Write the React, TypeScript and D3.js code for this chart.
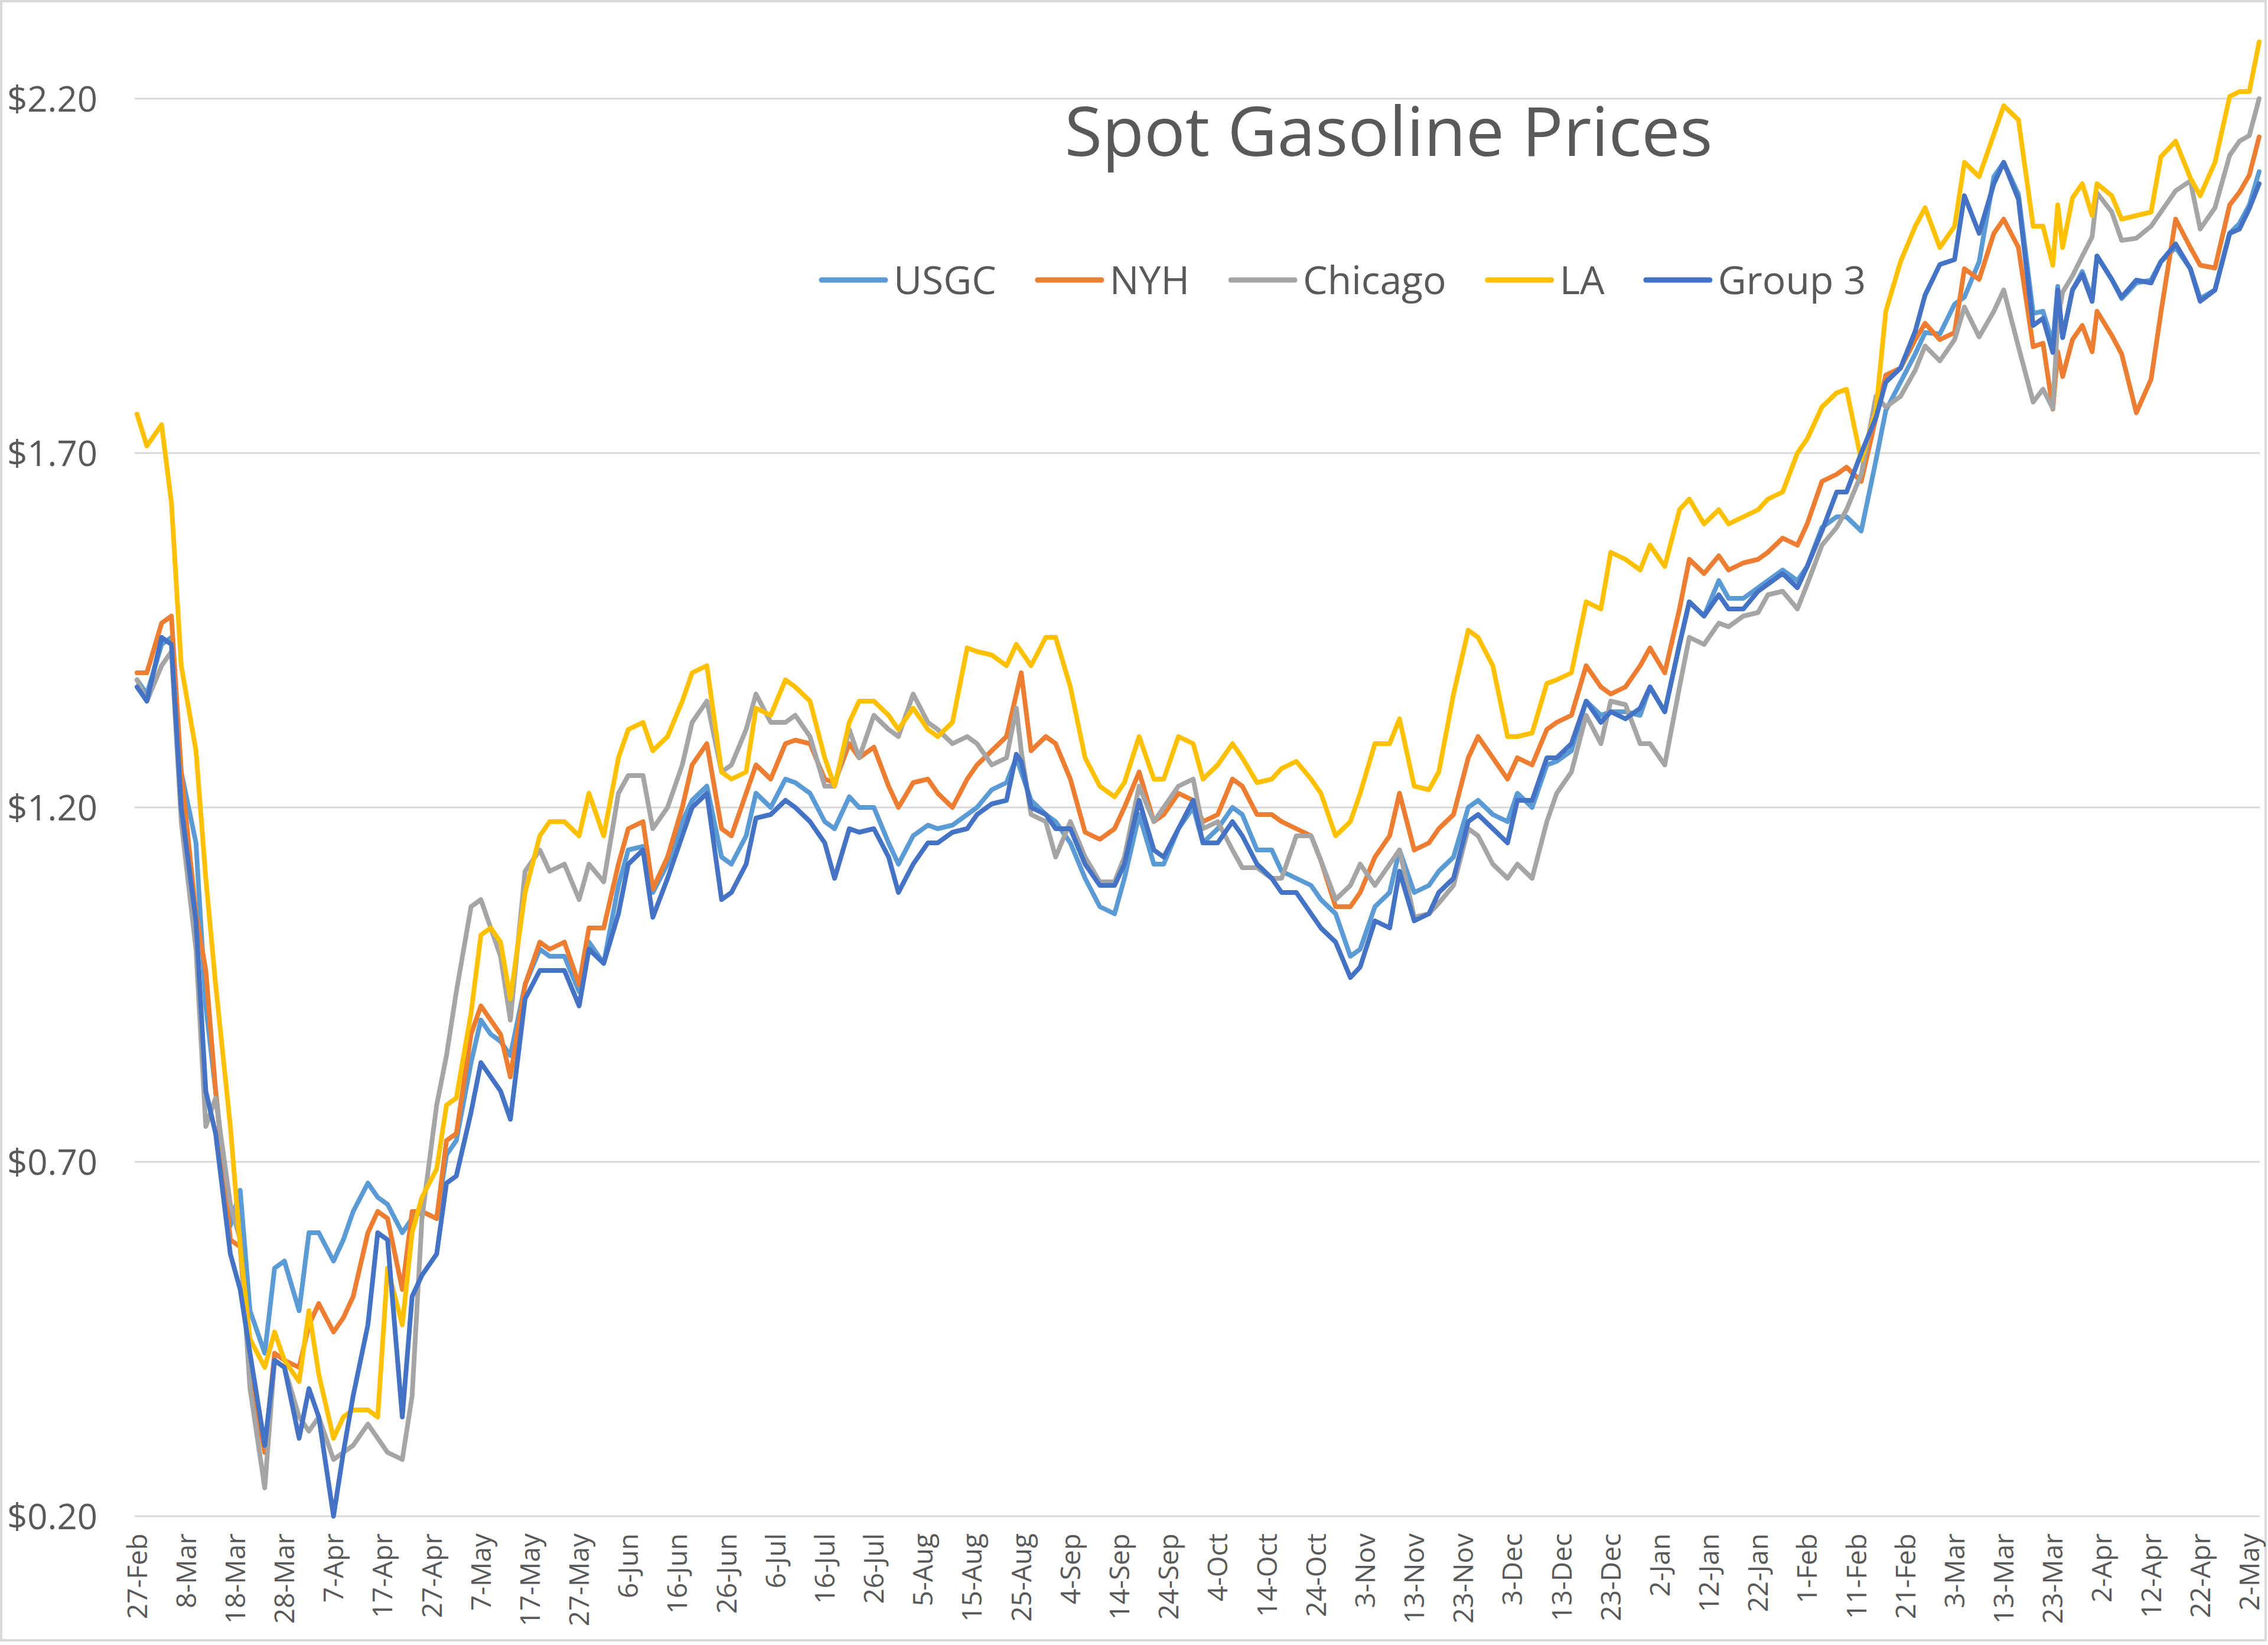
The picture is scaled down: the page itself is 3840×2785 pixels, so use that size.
import React from "react";
import * as d3 from "d3";

// Day offsets from 27-Feb-2020
const dayOffsets = [
  0, 2, 5, 7, 9, 12, 14, 16, 19, 21, 23, 26, 28, 30, 33, 35, 37, 40, 42, 44, 47, 49, 51, 54, 56, 58, 61, 63, 65, 68, 70, 72, 74, 76, 79, 82, 84, 87, 90, 92,
  95, 98, 100, 103, 105, 108, 111, 113, 116, 119, 121, 124, 126, 129, 132, 134, 137, 140, 142, 145, 147, 150, 153, 155, 158, 161, 163, 166, 169, 171, 174, 177, 179, 180, 182, 185, 187,
  190, 193, 196, 199, 201, 204, 207, 209, 212, 215, 217, 220, 223, 225, 228, 231, 233, 236, 239, 241, 244, 247, 249, 252, 255, 257, 260, 263, 265, 268, 271, 273, 276, 279, 281, 284, 287, 289, 292, 295,
  298, 300, 303, 306, 308, 311, 314, 316, 319, 322, 324, 327, 330, 332, 335, 338, 340, 343, 346, 348, 351, 354, 356,
  359, 362, 364, 367, 370, 372, 375, 378, 380, 383, 386, 388, 390, 391, 392, 394, 396, 398, 399, 402, 404, 407, 410, 412, 415, 418, 420, 423, 426, 428, 430, 432,
];

const usgc = [
  1.38, 1.36, 1.43, 1.44, 1.25, 1.15, 0.92, 0.8, 0.61, 0.66, 0.49, 0.43, 0.55, 0.56, 0.49, 0.6, 0.6, 0.56, 0.59, 0.63, 0.67, 0.65, 0.64, 0.6, 0.62, 0.63, 0.62, 0.71, 0.73, 0.84, 0.9, 0.88, 0.87, 0.85, 0.95, 1.0, 0.99, 0.99, 0.94, 1.01,
  0.98, 1.09, 1.14, 1.145, 1.08, 1.12, 1.18, 1.21, 1.23, 1.13, 1.12, 1.16, 1.22, 1.2, 1.24, 1.235, 1.22, 1.18, 1.17, 1.215, 1.2, 1.2, 1.15, 1.12, 1.16, 1.175, 1.17, 1.175, 1.19, 1.2, 1.225, 1.235, 1.27, 1.25, 1.21, 1.19, 1.18,
  1.15, 1.1, 1.06, 1.05, 1.1, 1.19, 1.12, 1.12, 1.17, 1.2, 1.15, 1.17, 1.2, 1.19, 1.14, 1.14, 1.11, 1.1, 1.09, 1.07, 1.05, 0.99, 1.0, 1.06, 1.08, 1.14, 1.08, 1.09, 1.11, 1.13, 1.2, 1.21, 1.19, 1.18, 1.22, 1.2, 1.26, 1.265, 1.28, 1.35,
  1.33, 1.335, 1.335, 1.33, 1.37, 1.335, 1.43, 1.49, 1.47, 1.52, 1.495, 1.495, 1.51, 1.52, 1.535, 1.52, 1.54, 1.595, 1.61, 1.61, 1.59, 1.69, 1.76,
  1.8, 1.84, 1.87, 1.868, 1.91, 1.92, 1.97, 2.09, 2.11, 2.065, 1.897, 1.9, 1.854, 1.935, 1.863, 1.93, 1.956, 1.918, 1.978, 1.945, 1.918, 1.94, 1.944, 1.97, 1.99, 1.96, 1.918, 1.93, 2.01, 2.024, 2.05, 2.097,
];

const nyh = [
  1.39, 1.39, 1.46, 1.47, 1.25, 1.05, 0.97, 0.8, 0.59, 0.58, 0.4, 0.29, 0.43, 0.42, 0.41, 0.47, 0.5, 0.46, 0.48, 0.51, 0.6, 0.63, 0.62, 0.52, 0.63, 0.63, 0.62, 0.73, 0.74, 0.88, 0.92, 0.9, 0.88, 0.82, 0.95, 1.01, 1.0, 1.01, 0.95, 1.03,
  1.03, 1.12, 1.17, 1.18, 1.085, 1.13, 1.2, 1.26, 1.29, 1.17, 1.16, 1.22, 1.26, 1.24, 1.29, 1.295, 1.29, 1.24, 1.235, 1.29, 1.27, 1.285, 1.23, 1.2, 1.235, 1.24, 1.22, 1.2, 1.24, 1.26, 1.28, 1.3, 1.36, 1.39, 1.28, 1.3, 1.29,
  1.24, 1.165, 1.155, 1.17, 1.2, 1.25, 1.18, 1.19, 1.22, 1.21, 1.18, 1.19, 1.24, 1.23, 1.19, 1.19, 1.18, 1.17, 1.16, 1.125, 1.06, 1.06, 1.08, 1.13, 1.16, 1.22, 1.14, 1.15, 1.17, 1.19, 1.27, 1.3, 1.27, 1.24, 1.27, 1.26, 1.31, 1.32, 1.33, 1.4,
  1.37, 1.36, 1.37, 1.4, 1.425, 1.39, 1.48, 1.55, 1.53, 1.555, 1.535, 1.545, 1.55, 1.56, 1.58, 1.57, 1.6, 1.66, 1.67, 1.68, 1.66, 1.75, 1.81,
  1.82, 1.86, 1.883, 1.86, 1.87, 1.96, 1.945, 2.01, 2.03, 1.99, 1.85, 1.855, 1.762, 1.843, 1.808, 1.86, 1.88, 1.843, 1.9, 1.866, 1.84, 1.757, 1.804, 1.898, 2.03, 1.99, 1.965, 1.961, 2.05, 2.068, 2.092, 2.146,
];

const chicago = [
  1.38, 1.35, 1.4, 1.42, 1.18, 1.0, 0.75, 0.79, 0.64, 0.59, 0.38, 0.24, 0.42, 0.41, 0.34, 0.32, 0.34, 0.28, 0.29, 0.3, 0.33, 0.31, 0.29, 0.28, 0.37, 0.62, 0.78, 0.85, 0.94, 1.06, 1.07, 1.03, 0.99, 0.9, 1.11, 1.14, 1.11, 1.12, 1.07, 1.12,
  1.095, 1.22, 1.245, 1.245, 1.17, 1.2, 1.26, 1.32, 1.35, 1.25, 1.26, 1.31, 1.36, 1.32, 1.32, 1.33, 1.3, 1.23, 1.23, 1.31, 1.27, 1.33, 1.31, 1.3, 1.36, 1.32, 1.31, 1.29, 1.3, 1.29, 1.26, 1.27, 1.34, 1.28, 1.19, 1.18, 1.13,
  1.18, 1.13, 1.095, 1.095, 1.13, 1.23, 1.18, 1.2, 1.23, 1.24, 1.17, 1.18, 1.14, 1.115, 1.115, 1.1, 1.1, 1.16, 1.16, 1.125, 1.07, 1.09, 1.12, 1.09, 1.12, 1.14, 1.045, 1.05, 1.065, 1.09, 1.17, 1.16, 1.12, 1.1, 1.12, 1.1, 1.18, 1.22, 1.25, 1.33,
  1.29, 1.35, 1.345, 1.29, 1.29, 1.26, 1.37, 1.44, 1.43, 1.46, 1.455, 1.47, 1.475, 1.5, 1.505, 1.48, 1.515, 1.57, 1.595, 1.62, 1.67, 1.78, 1.765,
  1.78, 1.817, 1.851, 1.83, 1.86, 1.906, 1.864, 1.9, 1.93, 1.85, 1.772, 1.79, 1.763, 1.888, 1.927, 1.95, 1.978, 2.005, 2.067, 2.04, 2.0, 2.003, 2.02, 2.04, 2.07, 2.084, 2.016, 2.046, 2.12, 2.14, 2.148, 2.2,
];

const la = [
  1.755, 1.71, 1.74, 1.63, 1.4, 1.28, 1.1, 0.95, 0.75, 0.58, 0.45, 0.41, 0.46, 0.42, 0.39, 0.49, 0.4, 0.31, 0.34, 0.35, 0.35, 0.34, 0.55, 0.47, 0.6, 0.65, 0.69, 0.78, 0.79, 0.91, 1.02, 1.03, 1.01, 0.93, 1.08, 1.16, 1.18, 1.18, 1.16, 1.22,
  1.16, 1.27, 1.31, 1.32, 1.28, 1.3, 1.35, 1.39, 1.4, 1.25, 1.24, 1.25, 1.34, 1.33, 1.38, 1.37, 1.35, 1.27, 1.23, 1.32, 1.35, 1.35, 1.33, 1.31, 1.34, 1.31, 1.3, 1.32, 1.425, 1.42, 1.415, 1.4, 1.43, 1.42, 1.4, 1.44, 1.44,
  1.37, 1.27, 1.23, 1.215, 1.235, 1.3, 1.24, 1.24, 1.3, 1.29, 1.24, 1.26, 1.29, 1.27, 1.235, 1.24, 1.255, 1.265, 1.24, 1.22, 1.16, 1.18, 1.22, 1.29, 1.29, 1.325, 1.23, 1.225, 1.25, 1.36, 1.45, 1.44, 1.4, 1.3, 1.3, 1.305, 1.375, 1.38, 1.39, 1.49,
  1.48, 1.56, 1.55, 1.535, 1.57, 1.54, 1.62, 1.635, 1.6, 1.62, 1.6, 1.61, 1.62, 1.635, 1.645, 1.7, 1.72, 1.765, 1.785, 1.79, 1.69, 1.76, 1.9,
  1.97, 2.02, 2.046, 1.99, 2.02, 2.11, 2.09, 2.15, 2.19, 2.17, 2.02, 2.02, 1.965, 2.05, 1.99, 2.06, 2.08, 2.035, 2.08, 2.063, 2.03, 2.035, 2.04, 2.118, 2.14, 2.088, 2.063, 2.11, 2.203, 2.21, 2.21, 2.28,
];

const group3 = [
  1.37, 1.35, 1.44, 1.43, 1.2, 1.04, 0.8, 0.74, 0.57, 0.52, 0.43, 0.3, 0.42, 0.41, 0.31, 0.38, 0.34, 0.2, 0.29, 0.37, 0.47, 0.6, 0.59, 0.34, 0.51, 0.54, 0.57, 0.67, 0.68, 0.77, 0.84, 0.82, 0.8, 0.76, 0.93, 0.97, 0.97, 0.97, 0.92, 1.0,
  0.98, 1.05, 1.12, 1.14, 1.045, 1.1, 1.16, 1.2, 1.22, 1.07, 1.08, 1.12, 1.185, 1.19, 1.21, 1.2, 1.18, 1.15, 1.1, 1.17, 1.165, 1.17, 1.13, 1.08, 1.12, 1.15, 1.15, 1.165, 1.17, 1.19, 1.205, 1.21, 1.275, 1.265, 1.2, 1.19, 1.17,
  1.17, 1.12, 1.09, 1.09, 1.12, 1.21, 1.14, 1.13, 1.17, 1.21, 1.15, 1.15, 1.18, 1.16, 1.12, 1.1, 1.08, 1.08, 1.05, 1.03, 1.01, 0.96, 0.975, 1.04, 1.03, 1.11, 1.04, 1.05, 1.08, 1.1, 1.18, 1.19, 1.17, 1.15, 1.21, 1.21, 1.27, 1.27, 1.29, 1.35,
  1.32, 1.335, 1.325, 1.34, 1.37, 1.335, 1.43, 1.49, 1.47, 1.5, 1.48, 1.48, 1.505, 1.515, 1.53, 1.51, 1.54, 1.59, 1.645, 1.645, 1.7, 1.75, 1.8,
  1.82, 1.872, 1.923, 1.966, 1.973, 2.063, 2.01, 2.08, 2.11, 2.058, 1.88, 1.89, 1.842, 1.93, 1.863, 1.93, 1.952, 1.914, 1.978, 1.945, 1.92, 1.944, 1.94, 1.97, 1.995, 1.96, 1.914, 1.93, 2.01, 2.016, 2.045, 2.08,
];

const seriesNames = ["USGC", "NYH", "Chicago", "LA", "Group 3"];
const seriesValues = [usgc, nyh, chicago, la, group3];
const seriesColors = ["#5B9BD5", "#ED7D31", "#A5A5A5", "#FFC000", "#4472C4"];

const tickLabels = [
  "27-Feb", "8-Mar", "18-Mar", "28-Mar", "7-Apr", "17-Apr", "27-Apr", "7-May", "17-May", "27-May",
  "6-Jun", "16-Jun", "26-Jun", "6-Jul", "16-Jul", "26-Jul", "5-Aug", "15-Aug", "25-Aug", "4-Sep",
  "14-Sep", "24-Sep", "4-Oct", "14-Oct", "24-Oct", "3-Nov", "13-Nov", "23-Nov", "3-Dec", "13-Dec",
  "23-Dec", "2-Jan", "12-Jan", "22-Jan", "1-Feb", "11-Feb", "21-Feb", "3-Mar", "13-Mar", "23-Mar",
  "2-Apr", "12-Apr", "22-Apr", "2-May",
];
const tickStepDays = 10;
const yTicks = [0.2, 0.7, 1.2, 1.7, 2.2];
const title = "Spot Gasoline Prices";

const FONT = "'Open Sans', 'Noto Sans', sans-serif";
const TEXT = "#595959";

function measure(text: string, size: number): number {
  if (typeof document === "undefined") return text.length * size * 0.55;
  const c = document.createElement("canvas");
  const ctx = c.getContext("2d");
  if (!ctx) return text.length * size * 0.55;
  ctx.font = `${size}px "Open Sans"`;
  return ctx.measureText(text).width;
}

export default function App() {
  const W = 3840;
  const H = 2785;
  const plotLeft = 228;
  const plotRight = 3826;

  const x = d3.scaleLinear().domain([0, 432]).range([232, 3825]);
  const y = d3.scaleLinear().domain([0.2, 2.2]).range([2567, 167]);
  const fmt = d3.format("$.2f");

  const lineGen = d3
    .line<number>()
    .x((_, i) => x(dayOffsets[i]))
    .y((d) => y(d));

  // legend layout
  const legendFont = 66;
  const legendLine = 108;
  const legendGapText = 14;
  const legendGapItem = 70;
  let cursor = 1391;
  const legendItems = seriesNames.map((name, i) => {
    const lx = cursor;
    const tx = lx + legendLine + legendGapText;
    const tw = measure(name, legendFont);
    cursor = tx + tw + legendGapItem;
    return { name, color: seriesColors[i], lx, tx };
  });
  const legendY = 474;

  return (
    <>
      <style>{"body{margin:0;overflow:hidden;}"}</style>
      <svg width={W} height={H} style={{ display: "block", background: "#fff" }} fontFamily={FONT}>
        <rect x={0} y={0} width={W} height={H} fill="#ffffff" />
        <rect x={2} y={2} width={W - 6} height={H - 10} fill="none" stroke="#D9D9D9" strokeWidth={4} />

        {/* gridlines */}
        {yTicks.map((t) => (
          <line key={"g" + t} x1={plotLeft} x2={plotRight} y1={y(t)} y2={y(t)} stroke="#D9D9D9" strokeWidth={3} />
        ))}

        {/* y labels */}
        {yTicks.map((t) => (
          <text key={"yl" + t} x={165} y={y(t)} dy="0.36em" textAnchor="end" fontSize={60} fill={TEXT}>
            {fmt(t)}
          </text>
        ))}

        {/* x labels */}
        {tickLabels.map((lab, i) => {
          const tx = x(i * tickStepDays);
          const ty = 2596;
          return (
            <text
              key={"xl" + i}
              transform={`translate(${tx},${ty}) rotate(-90)`}
              dy="0.36em"
              textAnchor="end"
              fontSize={46}
              fill={TEXT}
            >
              {lab}
            </text>
          );
        })}

        {/* series */}
        {seriesValues.map((vals, i) => (
          <path
            key={"s" + i}
            d={lineGen(vals) || ""}
            fill="none"
            stroke={seriesColors[i]}
            strokeWidth={8}
            strokeLinejoin="round"
            strokeLinecap="round"
          />
        ))}

        {/* title */}
        <text x={2351} y={264} textAnchor="middle" fontSize={116} fill={TEXT}>
          {title}
        </text>

        {/* legend */}
        {legendItems.map((it) => (
          <g key={"lg" + it.name}>
            <line x1={it.lx} x2={it.lx + legendLine} y1={legendY} y2={legendY} stroke={it.color} strokeWidth={9} strokeLinecap="round" />
            <text x={it.tx} y={legendY} dy="0.36em" fontSize={legendFont} fill={TEXT}>
              {it.name}
            </text>
          </g>
        ))}
      </svg>
    </>
  );
}
